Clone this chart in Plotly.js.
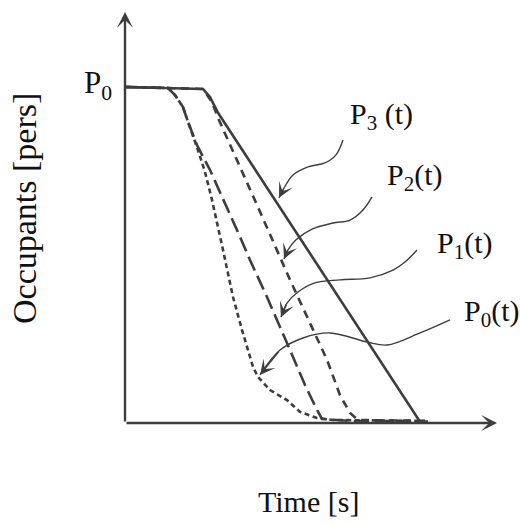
<!DOCTYPE html>
<html>
<head>
<meta charset="utf-8">
<script src="https://cdn.plot.ly/plotly-3.0.1.min.js"></script>
<style>
  html, body { margin: 0; padding: 0; background: #fff; }
  #chart { width: 520px; height: 524px; }
</style>
</head>
<body>
<div id="chart"></div>
<script>
// Evacuation curves: occupants remaining (percent of P0) against time.
const timeP3 = [0, 18, 31.2, 34, 37.2, 118, 121.2];
const occP3  = [100, 99.7, 99.4, 97, 92.3, 0.4, 0.4];

const timeP2 = [0, 18, 31.2, 34.8, 37.2, 52.8, 66, 80.8, 86, 90, 93.2, 120];
const occP2  = [100, 99.7, 99.4, 95.5, 90.8, 64.9, 42.6, 18.8, 8.3, 3, 0.9, 0.6];

const timeP1 = [0, 17.2, 20, 23.2, 25.2, 28.8, 34, 40.8, 46, 50, 56.8, 64.8, 72, 76.8, 78.8, 90, 120];
const occP1  = [100, 99.7, 97.6, 94, 89.6, 82.7, 75.3, 64.3, 55.4, 48.5, 37.5, 23.8, 11.3, 3.9, 1.2, 0.6, 0.6];

const timeP0 = [0, 17.2, 20, 23.2, 25.2, 28.8, 32, 34.8, 39.2, 43.2, 46.8, 49.2, 51.2, 53.2, 58, 64.8, 70, 76.8, 83.2, 120];
const occP0  = [100, 99.7, 97.6, 94, 89.6, 82.1, 74.7, 66.4, 51.5, 37.5, 27.7, 21.7, 16.7, 13.7, 9.8, 6.8, 3.3, 1.5, 0.9, 0.6];

// Curve labels and their wavy leader lines (last point is the arrow tip)
const labelText = ['P<sub>3</sub> (t)', 'P<sub>2</sub>(t)', 'P<sub>1</sub>(t)', 'P<sub>0</sub>(t)'];
const labelX = [89.2, 104, 124, 134.8];
const labelY = [91.3, 73.2, 52.9, 32.7];

const leaderX = [
  [87.2, 84.4, 80, 73.2, 67.2, 63.6, 61.6],
  [98.8, 95.2, 90, 83.2, 74.8, 68.4, 65.2, 63.6],
  [116.8, 112, 107.2, 98, 86, 76, 69.2, 64.8, 62.4],
  [130, 118, 104.8, 96.8, 82, 71.2, 62, 54]
];
const leaderY = [
  [84.2, 79.8, 77.4, 76.2, 73.8, 69.9, 67],
  [67.3, 63.4, 60.4, 59.5, 57.7, 54.5, 51.5, 48.8],
  [51.5, 47.9, 45.5, 43.2, 42.6, 41.7, 39, 35.7, 31.5],
  [30.7, 26.8, 23.2, 24.1, 26.8, 25.3, 21.7, 14.3]
];

const xMax = 150, yMax = 122.9;
const ink = '#3d3d3d';
const serif = 'Liberation Serif, Times New Roman, serif';

const curve = (x, y, dash) => ({
  x, y, type: 'scatter', mode: 'lines', hoverinfo: 'skip',
  line: { color: ink, width: 2.6, dash }
});

const traces = [
  curve(timeP0, occP0, '5px,3.5px'),
  curve(timeP1, occP1, '15px,6px'),
  curve(timeP2, occP2, '8px,6px'),
  curve(timeP3, occP3, 'solid')
];

leaderX.forEach((xs, i) => {
  traces.push({
    x: xs, y: leaderY[i], type: 'scatter', mode: 'lines', hoverinfo: 'skip',
    line: { color: ink, width: 1.4, shape: 'spline', smoothing: 1 }
  });
});

const annotations = [];

// axis arrows
annotations.push({
  x: 0, y: 122.3, ax: 0, ay: 0, xref: 'x', yref: 'y', axref: 'x', ayref: 'y',
  text: '', showarrow: true, arrowhead: 3, arrowsize: 1.1, arrowwidth: 2.4, arrowcolor: ink
});
annotations.push({
  x: 148.8, y: 0, ax: 0, ay: 0, xref: 'x', yref: 'y', axref: 'x', ayref: 'y',
  text: '', showarrow: true, arrowhead: 3, arrowsize: 1.1, arrowwidth: 2.4, arrowcolor: ink
});

// leader arrowheads
leaderX.forEach((xs, i) => {
  const ys = leaderY[i];
  const n = xs.length;
  annotations.push({
    x: xs[n - 1], y: ys[n - 1], ax: xs[n - 2], ay: ys[n - 2],
    xref: 'x', yref: 'y', axref: 'x', ayref: 'y',
    text: '', showarrow: true, arrowhead: 3, arrowsize: 1.8, arrowwidth: 1.4, arrowcolor: ink
  });
});

// curve labels
labelText.forEach((t, i) => {
  annotations.push({
    x: labelX[i], y: labelY[i], xref: 'x', yref: 'y', text: t, showarrow: false,
    xanchor: 'left', yanchor: 'middle', font: { family: serif, size: 30, color: '#111' }
  });
});

// P0 level marker beside the vertical axis
annotations.push({
  x: -0.03, y: 0.818, xref: 'paper', yref: 'paper', text: 'P<sub>0</sub>', showarrow: false,
  xanchor: 'right', yanchor: 'middle', font: { family: serif, size: 31, color: '#111' }
});

// axis titles
annotations.push({
  x: 0.488, y: -0.19, xref: 'paper', yref: 'paper', text: 'Time [s]', showarrow: false,
  xanchor: 'center', yanchor: 'middle', font: { family: serif, size: 30, color: '#111' }
});
annotations.push({
  x: -0.27, y: 0.52, xref: 'paper', yref: 'paper', text: 'Occupants [pers]', showarrow: false,
  textangle: -90, xanchor: 'center', yanchor: 'middle', font: { family: serif, size: 34, color: '#111' }
});

const layout = {
  width: 520, height: 524,
  margin: { l: 125, r: 20, t: 10, b: 101 },
  paper_bgcolor: '#fff', plot_bgcolor: '#fff',
  showlegend: false,
  xaxis: { range: [0, xMax], visible: false, fixedrange: true },
  yaxis: { range: [0, yMax], visible: false, fixedrange: true },
  annotations
};

Plotly.newPlot('chart', traces, layout, { staticPlot: true, displayModeBar: false });
</script>
</body>
</html>
